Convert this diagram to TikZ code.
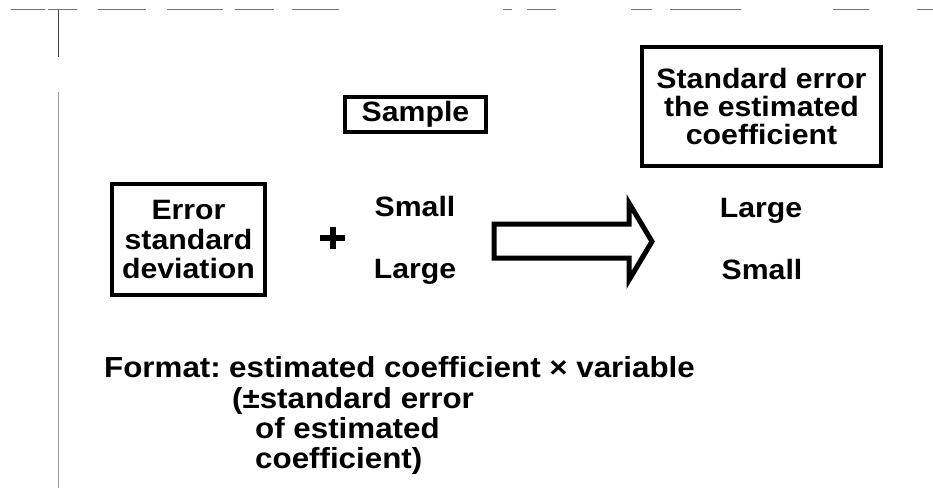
\documentclass[tikz,border=0pt]{standalone}
\usepackage{fontspec}
\setmainfont{Liberation Sans}[FakeStretch=1.08]
\usetikzlibrary{calc}

% bold label face: size and line pitch
\newcommand\lblfont[2]{\fontsize{#1}{#2}\selectfont\bfseries}

\tikzset{
  framed/.style={draw, line width=4pt, align=center, inner sep=0pt},
  word/.style={inner sep=0pt, font=\lblfont{28}{29}},
  note/.style={inner sep=0pt, anchor=base west, font=\lblfont{29}{30}},
  scanmark/.style={draw=black!40, line width=0.8pt},
}

\begin{document}
\begin{tikzpicture}[x=1pt, y=-1pt]
\useasboundingbox (0,0) rectangle (933,491);

% faint rules along the top and left margin
\coordinate (vt) at (58,10);
\coordinate (vm) at (58,57);
\coordinate (vb1) at (58,92);
\coordinate (vb2) at (58,488);
\draw[line width=0.8pt, black!75] (vt) -- (vm);
\draw[scanmark] (vb1) -- (vb2);
\foreach \a/\b in {11/45, 48/77, 98/146, 167/223, 235/274, 292/339, 503/512, 527/556, 631/652, 670/741, 833/869, 917/933}
  \draw[scanmark, black!55] (\a,9) -- (\b,9);

% boxes
\node[framed, minimum width=141pt, minimum height=35pt, font=\lblfont{28}{29}]
  (samp) at (415.5,114) {Sample};
\node[framed, minimum width=239pt, minimum height=119pt, font=\lblfont{28}{28}]
  (secoef) at (761.5,106.5) {Standard error\\the estimated\\coefficient};
\node[framed, minimum width=153pt, minimum height=111pt, font=\lblfont{28}{29.5}]
  (errsd) at (188.5,239.5) {Error\\standard\\deviation};

% plus sign
\node[inner sep=0pt, minimum size=24pt] (plus) at (332.5,238) {};
\draw[line width=6pt] (plus.west) -- (plus.east);
\draw[line width=6pt] ($(plus.north)+(0,1)$) -- ($(plus.south)+(0,-1)$);

% sample size column
\node[word, anchor=base] (smallL) at (415,216) {Small};
\node[word, anchor=base] (largeL) at (415,278) {Large};

% outcome column
\node[word, anchor=base] (largeR) at (761,217) {Large};
\node[word, anchor=base] (smallR) at (762,279) {Small};

% block arrow
\draw[line width=5pt, line join=miter]
  (494,224) -- (629,224) -- (629,203) -- (652,241.5) -- (629,280) -- (629,258) -- (494,258) -- cycle;

% format note
\node[note] (fmt) at (104,377) {Format:};
\node[note] (f1) at (229,377) {estimated coefficient \texttimes{} variable};
\node[note] (f2) at (232,408) {(±standard error};
\node[note] (f3) at (255,438) {of estimated};
\node[note] (f4) at (255,468) {coefficient)};
\end{tikzpicture}
\end{document}
